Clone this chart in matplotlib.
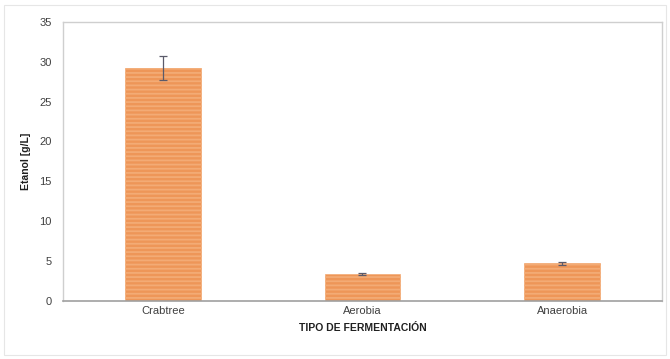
import matplotlib
matplotlib.use("Agg")
import matplotlib.pyplot as plt
from matplotlib.patches import Rectangle

plt.rcParams['font.family'] = ['Liberation Sans', 'DejaVu Sans']
plt.rcParams['hatch.color'] = '#fcd6b8'
plt.rcParams['hatch.linewidth'] = 1.3

# data
categories = ['Crabtree', 'Aerobia', 'Anaerobia']
etanol = [29.2, 3.4, 4.7]
errores = [1.5, 0.15, 0.2]

fig = plt.figure(figsize=(6.7, 3.59), dpi=100)
ax = fig.add_axes([0.094, 0.162, 0.894, 0.777])

# faint outer border of the chart area
fig.patches.append(Rectangle((0.006, 0.01), 0.988, 0.975, transform=fig.transFigure,
                             fill=False, edgecolor='#e6e6e6', linewidth=0.8))

x = range(len(categories))
ax.bar(x, etanol, width=0.38, color='#ee9658', edgecolor='#f3ab75', linewidth=0.5,
       hatch='----', zorder=2)
ax.errorbar(x, etanol, yerr=errores, fmt='none', ecolor='#5a5a6a', elinewidth=0.9,
            capsize=3, capthick=0.9, zorder=3)

ax.set_xlim(-0.5, 2.5)
ax.set_ylim(0, 35)
ax.set_yticks(range(0, 36, 5))
ax.set_xticks(list(x))
ax.set_xticklabels(categories)
ax.tick_params(axis='both', length=0, labelsize=8, colors='#404040', pad=4)
ax.tick_params(axis='y', pad=8)

for side in ['top', 'right', 'left']:
    ax.spines[side].set_color('#cfcfcf')
    ax.spines[side].set_linewidth(1.0)
ax.spines['bottom'].set_color('#a0a0a0')
ax.spines['bottom'].set_linewidth(1.2)

ax.set_ylabel('Etanol [g/L]', fontsize=7.5, fontweight='bold', color='#202020', labelpad=6)
ax.set_xlabel('TIPO DE FERMENTACIÓN', fontsize=7.5, fontweight='bold', color='#202020', labelpad=5)

fig.savefig('out.png', dpi=100)
